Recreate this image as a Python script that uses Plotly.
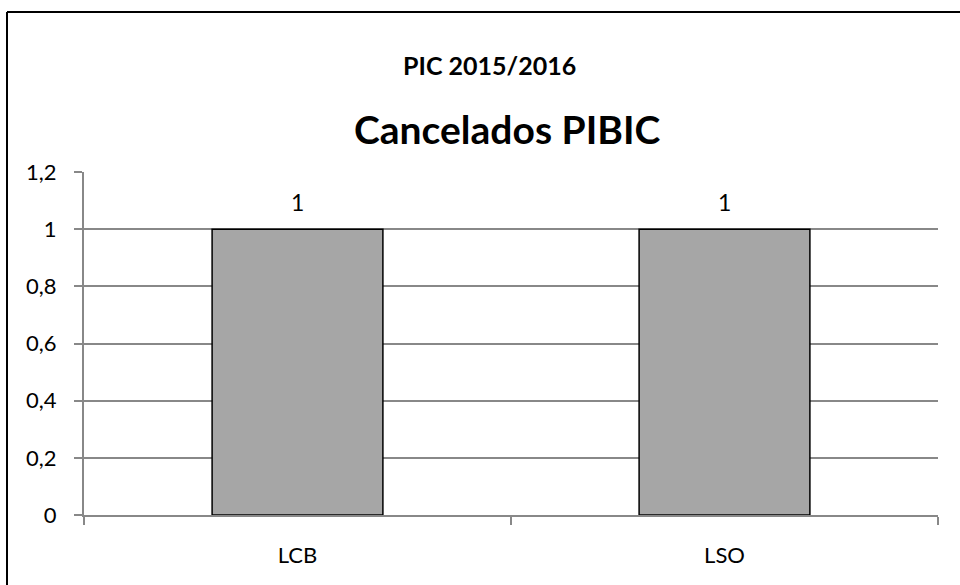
import plotly.graph_objects as go

categories = ["LCB", "LSO"]
values = [1, 1]
tick_vals = [0, 0.2, 0.4, 0.6, 0.8, 1.0, 1.2]
title_top = "PIC 2015/2016"
title_main = "Cancelados PIBIC"

FONT = "Lato"
W, H = 960, 585
ML, MR, MT, MB = 84, 22, 172, 70
PW, PH = W - ML - MR, H - MT - MB


def px(x):
    return (x - ML) / PW


def py(y):
    return (H - MB - y) / PH


fig = go.Figure()
fig.add_trace(go.Bar(
    x=categories, y=values, width=0.4,
    marker=dict(color="#A6A6A6", line=dict(color="#000000", width=1.5)),
    hoverinfo="skip",
))

annotations = [
    dict(x=c, y=v, xref="x", yref="y", text=str(v), showarrow=False,
         yanchor="middle", yshift=27,
         font=dict(family=FONT, size=23, color="#000000"))
    for c, v in zip(categories, values)
]
annotations += [
    dict(text="<b>" + title_top + "</b>", xref="paper", yref="paper",
         x=px(489), y=py(65), yanchor="middle", xanchor="center",
         showarrow=False, font=dict(family=FONT, size=25, color="#000000")),
    dict(text="<b>" + title_main + "</b>", xref="paper", yref="paper",
         x=px(507), y=py(129), yanchor="middle", xanchor="center",
         showarrow=False, font=dict(family=FONT, size=39, color="#000000")),
]

fig.update_layout(
    width=W, height=H,
    paper_bgcolor="white", plot_bgcolor="white",
    margin=dict(l=ML, r=MR, t=MT, b=MB),
    separators=",.",
    showlegend=False,
    font=dict(family=FONT, size=22, color="#000000"),
    xaxis=dict(
        showline=True, linecolor="#888888", linewidth=2,
        ticks="outside", ticklen=8, tickcolor="#888888", tickwidth=2,
        tickson="boundaries", showgrid=False,
        tickfont=dict(family=FONT, size=22, color="#000000"),
        ticklabelstandoff=20,
    ),
    yaxis=dict(
        range=[0, 1.2], tickvals=tick_vals,
        showline=True, linecolor="#888888", linewidth=2,
        ticks="outside", ticklen=8, tickcolor="#888888", tickwidth=2,
        showgrid=True, gridcolor="#888888", gridwidth=2,
        zeroline=False,
        tickfont=dict(family=FONT, size=22, color="#000000"),
        ticklabelstandoff=13,
    ),
    annotations=annotations,
    shapes=[
        dict(type="line", xref="paper", yref="paper", x0=px(7), x1=px(962),
             y0=py(12), y1=py(12), line=dict(color="#000000", width=2)),
        dict(type="line", xref="paper", yref="paper", x0=px(7), x1=px(7),
             y0=py(12), y1=py(590), line=dict(color="#000000", width=2)),
    ],
)

fig.write_html(
    "out.html",
    config={"displayModeBar": False, "staticPlot": True},
    post_script="document.body.style.margin='0';document.body.style.overflow='hidden';",
)
